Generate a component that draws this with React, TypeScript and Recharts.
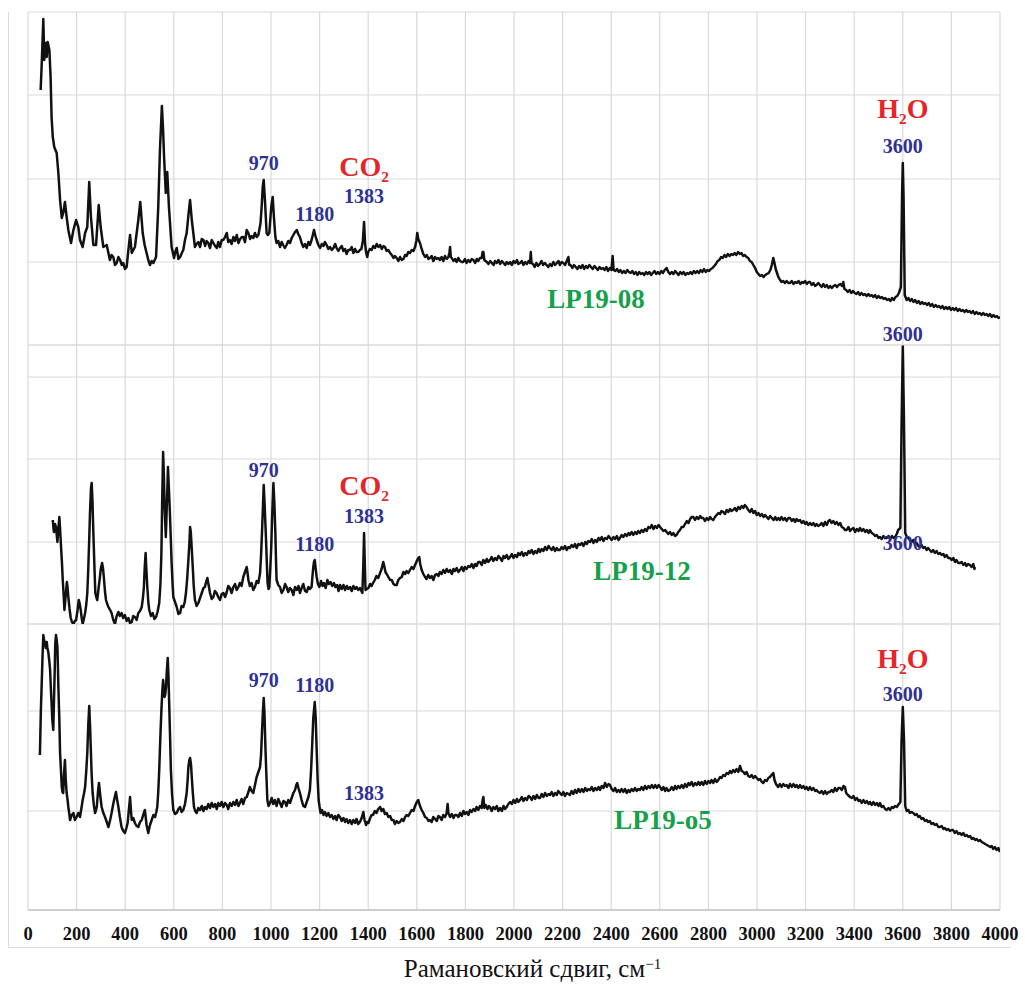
import React from "react";
import { LineChart, Line, XAxis, YAxis, CartesianGrid, ReferenceDot } from "recharts";

// Raman shift axis, cm^-1
const WAVENUMBER_TICKS = [
  0, 200, 400, 600, 800, 1000, 1200, 1400, 1600, 1800, 2000, 2200, 2400, 2600, 2800, 3000, 3200, 3400, 3600, 3800, 4000,
];

// intensity grids of the three stacked spectra (arbitrary units)
const LP19_08_TICKS = [0, 83, 166, 250, 333];
const LP19_12_TICKS = [0, 82, 165, 247];
const LP19_O5_TICKS = [0, 99, 199];

// [raman shift, intensity]
const LP19_08: [number, number][] = [
  [52, 255], [56, 278], [63, 326], [67, 285], [73, 302], [77, 288], [81, 303], [88, 295], [93, 268], [97, 228],
  [102, 208], [108, 198], [118, 192], [125, 172], [132, 145], [139, 127], [145, 132], [152, 143], [159, 128], [166, 115],
  [177, 102], [187, 115], [198, 125], [207, 118], [214, 105], [225, 98], [235, 112], [244, 118], [252, 163], [259, 128],
  [269, 100], [280, 100], [291, 140], [299, 118], [310, 98], [324, 100], [337, 85], [344, 90], [351, 88], [358, 80],
  [365, 82], [372, 88], [379, 85], [386, 80], [392, 82], [399, 76], [406, 78], [413, 95], [420, 110], [427, 92],
  [440, 98], [454, 125], [462, 143], [472, 112], [480, 100], [488, 92], [495, 85], [502, 80], [509, 84], [516, 82],
  [527, 88], [536, 138], [543, 195], [551, 239], [556, 215], [560, 188], [567, 152], [573, 173], [580, 138], [591, 98],
  [601, 87], [606, 93], [612, 97], [619, 86], [626, 88], [633, 92], [639, 95], [646, 105], [653, 112], [661, 132],
  [667, 145], [674, 125], [687, 98], [694, 101], [701, 103], [708, 98], [715, 106], [722, 105], [729, 99], [735, 104],
  [742, 102], [749, 97], [756, 105], [763, 102], [770, 99], [777, 97], [783, 103], [790, 98], [797, 105], [804, 105],
  [811, 108], [818, 112], [824, 103], [831, 105], [838, 101], [845, 108], [852, 104], [859, 110], [866, 102], [873, 106],
  [880, 108], [886, 108], [893, 103], [900, 115], [907, 112], [914, 106], [920, 109], [927, 107], [934, 112], [941, 108],
  [948, 110], [957, 122], [962, 140], [966, 158], [970, 165], [975, 145], [982, 112], [987, 110], [993, 112], [1001, 138],
  [1007, 148], [1012, 128], [1018, 108], [1023, 102], [1030, 104], [1037, 98], [1044, 103], [1050, 100], [1057, 97], [1064, 100],
  [1071, 104], [1078, 102], [1085, 107], [1092, 110], [1099, 113], [1106, 115], [1112, 111], [1119, 108], [1126, 102], [1133, 98],
  [1140, 101], [1147, 97], [1154, 103], [1160, 100], [1167, 105], [1172, 110], [1177, 115], [1183, 109], [1188, 105], [1195, 100],
  [1202, 97], [1209, 101], [1216, 99], [1222, 103], [1229, 100], [1236, 96], [1243, 98], [1250, 95], [1257, 97], [1264, 101],
  [1270, 97], [1277, 94], [1284, 97], [1291, 99], [1298, 94], [1305, 96], [1311, 91], [1318, 95], [1325, 95], [1332, 98],
  [1339, 92], [1346, 96], [1352, 93], [1359, 93], [1366, 95], [1372, 96], [1378, 104], [1383, 123], [1387, 102], [1391, 93],
  [1396, 88], [1400, 93], [1407, 96], [1414, 95], [1421, 99], [1428, 97], [1435, 101], [1442, 98], [1449, 100], [1456, 96],
  [1463, 99], [1469, 98], [1476, 94], [1483, 95], [1490, 92], [1497, 90], [1504, 87], [1510, 89], [1517, 87], [1524, 84],
  [1531, 88], [1538, 85], [1545, 86], [1552, 90], [1558, 89], [1565, 93], [1572, 92], [1579, 95], [1586, 94], [1593, 98],
  [1598, 104], [1602, 112], [1606, 106], [1613, 102], [1620, 96], [1627, 91], [1634, 88], [1641, 90], [1648, 86], [1654, 87],
  [1661, 89], [1668, 84], [1675, 88], [1682, 86], [1689, 87], [1695, 85], [1702, 88], [1709, 84], [1716, 89], [1723, 86],
  [1730, 88], [1734, 92], [1737, 98], [1740, 88], [1744, 87], [1751, 84], [1758, 86], [1764, 83], [1771, 87], [1778, 84],
  [1785, 83], [1791, 83], [1798, 86], [1805, 82], [1812, 85], [1819, 83], [1826, 86], [1833, 85], [1840, 82], [1847, 86],
  [1853, 84], [1860, 87], [1867, 87], [1871, 93], [1874, 93], [1878, 85], [1888, 83], [1895, 81], [1902, 84], [1909, 82],
  [1916, 80], [1922, 84], [1929, 82], [1936, 85], [1943, 81], [1950, 84], [1957, 82], [1964, 80], [1970, 83], [1977, 81],
  [1984, 83], [1991, 80], [1998, 84], [2005, 82], [2012, 85], [2018, 81], [2025, 82], [2032, 84], [2039, 80], [2046, 83],
  [2053, 81], [2060, 84], [2066, 82], [2069, 93], [2072, 82], [2078, 81], [2085, 78], [2092, 82], [2099, 79], [2106, 81],
  [2113, 84], [2120, 80], [2127, 82], [2134, 80], [2141, 78], [2148, 81], [2155, 79], [2162, 83], [2169, 80], [2176, 82],
  [2183, 84], [2189, 80], [2196, 83], [2203, 82], [2210, 80], [2217, 84], [2224, 88], [2227, 80], [2233, 80], [2240, 77],
  [2247, 80], [2254, 78], [2261, 76], [2268, 79], [2275, 77], [2282, 80], [2289, 76], [2296, 79], [2303, 77], [2310, 80],
  [2317, 78], [2324, 76], [2331, 79], [2338, 77], [2345, 75], [2352, 78], [2359, 76], [2366, 77], [2373, 75], [2380, 78],
  [2387, 74], [2394, 77], [2401, 75], [2406, 89], [2410, 75], [2417, 74], [2424, 76], [2431, 73], [2438, 75], [2445, 72],
  [2452, 74], [2459, 72], [2466, 75], [2473, 73], [2480, 72], [2487, 74], [2494, 71], [2501, 73], [2508, 70], [2515, 73],
  [2522, 71], [2529, 72], [2536, 70], [2543, 73], [2550, 71], [2557, 73], [2564, 70], [2571, 72], [2578, 74], [2585, 71],
  [2592, 73], [2599, 71], [2606, 74], [2613, 72], [2620, 75], [2628, 77], [2635, 73], [2642, 71], [2649, 73], [2656, 71],
  [2663, 74], [2670, 72], [2677, 70], [2684, 73], [2691, 71], [2698, 73], [2705, 70], [2712, 72], [2719, 71], [2726, 73],
  [2733, 71], [2740, 74], [2747, 72], [2754, 74], [2761, 72], [2768, 75], [2775, 73], [2782, 76], [2789, 73], [2796, 75],
  [2803, 74], [2810, 76], [2817, 77], [2824, 79], [2831, 81], [2838, 84], [2845, 85], [2852, 88], [2859, 87], [2866, 90],
  [2873, 88], [2880, 91], [2887, 89], [2894, 91], [2901, 90], [2908, 92], [2915, 90], [2922, 93], [2929, 91], [2936, 92],
  [2943, 89], [2950, 90], [2957, 88], [2964, 87], [2971, 84], [2978, 83], [2985, 80], [2992, 77], [2999, 73], [3006, 71],
  [3013, 69], [3020, 70], [3027, 68], [3034, 70], [3041, 71], [3048, 72], [3055, 75], [3061, 80], [3067, 87], [3072, 82],
  [3077, 76], [3081, 73], [3088, 68], [3095, 65], [3101, 63], [3108, 64], [3115, 62], [3122, 64], [3129, 62], [3136, 62],
  [3143, 64], [3150, 61], [3157, 63], [3164, 62], [3171, 64], [3178, 61], [3185, 63], [3191, 62], [3198, 64], [3205, 61],
  [3212, 63], [3218, 63], [3225, 60], [3232, 62], [3239, 59], [3245, 60], [3252, 62], [3259, 60], [3266, 58], [3273, 61],
  [3280, 58], [3287, 60], [3294, 57], [3301, 59], [3308, 57], [3315, 59], [3322, 60], [3329, 58], [3336, 60], [3343, 61],
  [3350, 59], [3355, 63], [3360, 56], [3367, 55], [3374, 53], [3381, 55], [3388, 52], [3395, 54], [3402, 52], [3409, 51],
  [3416, 53], [3423, 50], [3430, 52], [3437, 50], [3444, 51], [3451, 49], [3458, 51], [3465, 49], [3472, 50], [3479, 48],
  [3486, 50], [3493, 47], [3500, 49], [3507, 47], [3514, 48], [3521, 46], [3528, 47], [3535, 45], [3542, 46], [3549, 44],
  [3556, 47], [3563, 45], [3570, 48], [3577, 49], [3584, 52], [3592, 58], [3597, 150], [3600, 182], [3603, 150], [3608, 50],
  [3616, 45], [3623, 47], [3630, 44], [3637, 46], [3644, 43], [3651, 45], [3658, 42], [3665, 44], [3672, 41], [3679, 43],
  [3686, 41], [3693, 42], [3700, 40], [3707, 42], [3714, 39], [3721, 41], [3728, 38], [3735, 40], [3742, 38], [3749, 39],
  [3756, 37], [3763, 39], [3770, 36], [3777, 38], [3784, 36], [3791, 38], [3798, 35], [3805, 37], [3812, 35], [3819, 37],
  [3826, 34], [3833, 36], [3840, 34], [3847, 35], [3854, 33], [3861, 35], [3868, 33], [3875, 34], [3882, 32], [3889, 34],
  [3896, 31], [3903, 33], [3910, 31], [3917, 32], [3924, 30], [3931, 32], [3938, 30], [3945, 31], [3952, 29], [3959, 31],
  [3966, 28], [3973, 30], [3980, 28], [3987, 29], [3994, 27], [4000, 28],
];

const LP19_12: [number, number][] = [
  [102, 104], [105, 95], [107, 92], [111, 100], [115, 97], [118, 90], [121, 82], [125, 95], [129, 107], [132, 95],
  [136, 77], [140, 60], [143, 44], [147, 28], [150, 14], [153, 22], [156, 31], [160, 42], [163, 36], [166, 27],
  [171, 15], [176, 6], [181, 2], [187, 0], [193, 3], [198, 4], [204, 14], [209, 24], [213, 20], [217, 14],
  [221, 6], [225, 0], [230, 5], [235, 11], [240, 20], [244, 31], [248, 55], [252, 85], [255, 110], [259, 135],
  [262, 141], [265, 125], [269, 91], [273, 60], [277, 31], [281, 27], [285, 24], [290, 35], [296, 47], [300, 56],
  [305, 61], [309, 55], [313, 44], [317, 32], [321, 24], [326, 20], [331, 17], [338, 14], [344, 11], [351, 4],
  [358, 0], [365, 8], [372, 12], [378, 8], [385, 11], [392, 6], [399, 9], [406, 3], [413, 6], [420, 1],
  [427, 2], [433, 8], [440, 7], [447, 4], [454, 11], [461, 13], [468, 17], [473, 26], [477, 37], [480, 55],
  [484, 71], [487, 55], [491, 37], [495, 22], [499, 14], [506, 8], [513, 11], [520, 5], [527, 7], [533, 12],
  [540, 21], [545, 40], [549, 71], [552, 120], [556, 172], [559, 150], [562, 117], [565, 100], [567, 87], [569, 100],
  [571, 117], [574, 140], [576, 157], [579, 140], [583, 117], [587, 90], [591, 61], [595, 40], [598, 27], [605, 22],
  [612, 17], [619, 10], [626, 11], [632, 18], [639, 17], [645, 22], [650, 31], [655, 45], [660, 64], [664, 80],
  [667, 97], [670, 92], [674, 75], [678, 57], [682, 38], [687, 24], [694, 18], [701, 21], [708, 26], [715, 31],
  [722, 36], [728, 37], [733, 42], [738, 46], [744, 38], [749, 31], [756, 25], [763, 27], [769, 33], [776, 31],
  [783, 27], [790, 24], [797, 30], [804, 31], [811, 27], [818, 32], [824, 38], [831, 36], [838, 31], [845, 37],
  [852, 40], [859, 34], [866, 37], [872, 41], [879, 38], [886, 47], [893, 52], [900, 57], [904, 50], [907, 44],
  [913, 38], [920, 41], [927, 34], [934, 37], [941, 43], [948, 41], [955, 51], [959, 68], [963, 92], [967, 118],
  [970, 139], [974, 118], [979, 88], [983, 60], [986, 41], [990, 35], [993, 37], [997, 55], [1001, 77], [1005, 110],
  [1010, 141], [1014, 120], [1018, 91], [1021, 60], [1023, 44], [1030, 39], [1037, 37], [1044, 31], [1051, 34], [1058, 40],
  [1064, 37], [1071, 32], [1078, 36], [1085, 34], [1092, 29], [1099, 37], [1106, 34], [1113, 38], [1119, 31], [1126, 36],
  [1133, 40], [1140, 33], [1147, 32], [1154, 37], [1160, 35], [1167, 37], [1170, 46], [1174, 57], [1177, 62], [1180, 64],
  [1184, 55], [1188, 47], [1193, 40], [1199, 37], [1206, 43], [1212, 38], [1218, 41], [1225, 36], [1232, 44], [1238, 40],
  [1245, 42], [1252, 38], [1259, 41], [1265, 37], [1272, 39], [1278, 33], [1284, 39], [1291, 35], [1298, 39], [1305, 34],
  [1312, 38], [1318, 35], [1325, 37], [1332, 33], [1339, 38], [1346, 35], [1352, 37], [1359, 34], [1366, 36], [1372, 33],
  [1376, 31], [1380, 60], [1383, 91], [1386, 60], [1389, 34], [1394, 35], [1401, 36], [1408, 40], [1414, 38], [1420, 41],
  [1427, 44], [1434, 48], [1441, 46], [1449, 51], [1455, 55], [1462, 62], [1466, 58], [1471, 52], [1476, 50], [1483, 47],
  [1490, 44], [1497, 44], [1504, 40], [1510, 39], [1517, 39], [1524, 44], [1531, 46], [1538, 47], [1545, 52], [1552, 50],
  [1558, 53], [1565, 51], [1572, 54], [1579, 57], [1586, 55], [1593, 59], [1600, 63], [1606, 66], [1610, 67], [1614, 60],
  [1620, 54], [1627, 50], [1634, 47], [1640, 45], [1647, 49], [1654, 46], [1661, 48], [1668, 44], [1675, 49], [1682, 50],
  [1689, 48], [1695, 52], [1702, 50], [1709, 54], [1716, 51], [1723, 55], [1730, 52], [1737, 54], [1744, 50], [1751, 55],
  [1757, 53], [1764, 56], [1771, 52], [1778, 54], [1785, 57], [1792, 53], [1798, 57], [1805, 55], [1812, 58], [1819, 57],
  [1826, 60], [1833, 56], [1840, 60], [1846, 58], [1853, 62], [1860, 62], [1867, 59], [1874, 64], [1881, 61], [1888, 65],
  [1894, 62], [1901, 64], [1908, 67], [1915, 63], [1922, 66], [1929, 64], [1936, 68], [1943, 66], [1950, 63], [1957, 68],
  [1963, 66], [1970, 69], [1977, 65], [1984, 67], [1991, 70], [1998, 66], [2005, 69], [2012, 67], [2018, 71], [2025, 69],
  [2032, 72], [2039, 68], [2046, 71], [2053, 69], [2060, 73], [2066, 71], [2073, 74], [2080, 70], [2087, 73], [2094, 71],
  [2101, 75], [2107, 72], [2114, 75], [2121, 73], [2128, 77], [2135, 74], [2142, 78], [2148, 76], [2155, 74], [2162, 77],
  [2169, 73], [2176, 76], [2182, 74], [2189, 74], [2196, 77], [2203, 75], [2210, 78], [2217, 74], [2224, 77], [2230, 76],
  [2237, 79], [2244, 77], [2251, 80], [2258, 76], [2265, 80], [2272, 79], [2279, 81], [2286, 78], [2293, 82], [2300, 80],
  [2306, 83], [2313, 82], [2320, 85], [2327, 81], [2334, 84], [2341, 82], [2348, 86], [2354, 84], [2361, 87], [2368, 83],
  [2375, 86], [2382, 85], [2389, 88], [2395, 86], [2402, 84], [2409, 87], [2416, 85], [2423, 88], [2430, 84], [2436, 86],
  [2443, 89], [2450, 87], [2457, 90], [2464, 88], [2471, 91], [2477, 89], [2484, 92], [2491, 89], [2498, 92], [2505, 90],
  [2511, 93], [2518, 91], [2525, 94], [2532, 92], [2539, 95], [2546, 93], [2553, 97], [2560, 96], [2567, 99], [2574, 95],
  [2581, 98], [2588, 96], [2595, 99], [2601, 97], [2608, 95], [2615, 93], [2622, 94], [2628, 92], [2635, 90], [2642, 92],
  [2649, 89], [2656, 91], [2663, 88], [2669, 89], [2676, 92], [2683, 94], [2690, 97], [2697, 97], [2704, 100], [2711, 103],
  [2718, 101], [2725, 105], [2731, 107], [2738, 107], [2745, 104], [2752, 107], [2759, 105], [2766, 108], [2772, 106], [2779, 106],
  [2786, 103], [2793, 106], [2800, 104], [2807, 107], [2813, 105], [2820, 104], [2827, 107], [2834, 109], [2841, 111], [2848, 110],
  [2854, 113], [2861, 112], [2868, 110], [2875, 114], [2882, 112], [2889, 115], [2895, 113], [2902, 114], [2909, 116], [2916, 113],
  [2923, 117], [2930, 115], [2937, 118], [2944, 116], [2950, 119], [2957, 117], [2964, 114], [2971, 112], [2978, 115], [2985, 111],
  [2992, 113], [2999, 109], [3006, 111], [3013, 108], [3020, 110], [3027, 107], [3033, 109], [3040, 107], [3047, 105], [3054, 108],
  [3061, 106], [3068, 104], [3075, 107], [3081, 104], [3088, 106], [3094, 104], [3101, 107], [3108, 104], [3115, 106], [3122, 103],
  [3129, 106], [3136, 106], [3143, 103], [3150, 105], [3157, 102], [3163, 105], [3170, 103], [3177, 104], [3184, 101], [3191, 103],
  [3198, 100], [3204, 102], [3211, 99], [3218, 101], [3225, 99], [3232, 101], [3239, 98], [3245, 100], [3252, 98], [3259, 99],
  [3266, 101], [3273, 98], [3280, 102], [3287, 99], [3294, 103], [3300, 104], [3307, 101], [3314, 103], [3321, 100], [3328, 102],
  [3335, 99], [3342, 101], [3349, 97], [3356, 96], [3362, 94], [3369, 94], [3376, 97], [3383, 93], [3390, 95], [3397, 96],
  [3404, 92], [3411, 95], [3418, 93], [3424, 96], [3431, 93], [3438, 95], [3445, 92], [3452, 94], [3459, 91], [3465, 94],
  [3472, 91], [3479, 90], [3486, 88], [3493, 89], [3500, 86], [3506, 87], [3513, 85], [3520, 88], [3527, 86], [3534, 86],
  [3541, 88], [3548, 85], [3555, 88], [3562, 86], [3568, 87], [3575, 90], [3581, 94], [3590, 96], [3595, 200], [3600, 279],
  [3605, 200], [3610, 91], [3615, 88], [3622, 86], [3629, 84], [3636, 82], [3643, 84], [3650, 80], [3657, 81], [3664, 78],
  [3670, 77], [3677, 79], [3684, 76], [3691, 77], [3698, 74], [3704, 76], [3711, 74], [3718, 72], [3725, 74], [3732, 71],
  [3739, 73], [3746, 70], [3753, 71], [3760, 69], [3767, 70], [3773, 67], [3780, 69], [3787, 66], [3794, 66], [3801, 64],
  [3808, 66], [3815, 62], [3821, 64], [3828, 61], [3835, 61], [3842, 62], [3849, 59], [3856, 61], [3862, 58], [3869, 60],
  [3876, 59], [3883, 57], [3890, 60], [3895, 55], [3897, 57],
];

const LP19_O5: [number, number][] = [
  [49, 155], [53, 200], [56, 223], [60, 255], [63, 275], [66, 270], [70, 267], [73, 262], [77, 268], [80, 262],
  [84, 257], [88, 248], [91, 240], [94, 222], [97, 207], [100, 190], [104, 180], [107, 210], [110, 240], [112, 265],
  [115, 275], [118, 270], [121, 263], [123, 245], [125, 223], [129, 190], [132, 157], [136, 138], [139, 123], [142, 118],
  [145, 117], [148, 135], [152, 150], [155, 132], [159, 117], [163, 110], [166, 103], [170, 96], [173, 90], [180, 95],
  [187, 97], [193, 90], [200, 93], [207, 97], [214, 93], [220, 102], [225, 110], [230, 116], [235, 123], [240, 140],
  [244, 157], [248, 185], [252, 204], [256, 180], [259, 157], [262, 135], [266, 117], [271, 105], [276, 97], [280, 100],
  [283, 103], [288, 118], [292, 127], [297, 115], [303, 103], [310, 97], [317, 93], [324, 88], [331, 83], [338, 90],
  [344, 97], [350, 105], [356, 112], [362, 118], [367, 110], [372, 103], [378, 93], [385, 83], [392, 79], [399, 77],
  [405, 82], [410, 87], [415, 100], [420, 113], [424, 98], [427, 90], [433, 92], [440, 87], [447, 84], [454, 83],
  [461, 88], [468, 90], [474, 95], [481, 100], [488, 85], [495, 77], [502, 85], [509, 90], [516, 95], [523, 93],
  [528, 98], [532, 103], [536, 118], [540, 140], [545, 175], [549, 200], [553, 220], [556, 230], [559, 222], [562, 213],
  [565, 216], [568, 223], [571, 238], [575, 252], [578, 235], [581, 207], [585, 170], [588, 140], [593, 115], [598, 100],
  [605, 96], [612, 97], [619, 101], [626, 103], [632, 98], [639, 100], [646, 106], [653, 117], [657, 130], [660, 143],
  [664, 150], [667, 152], [671, 145], [674, 133], [678, 118], [683, 103], [688, 99], [694, 97], [701, 102], [708, 100],
  [715, 104], [722, 99], [728, 103], [735, 101], [742, 106], [749, 102], [756, 107], [763, 103], [770, 106], [777, 101],
  [783, 107], [790, 104], [797, 108], [804, 103], [811, 107], [818, 105], [824, 101], [831, 107], [838, 104], [845, 108],
  [852, 105], [859, 110], [866, 104], [872, 107], [879, 111], [886, 106], [893, 112], [900, 113], [907, 118], [913, 123],
  [920, 119], [927, 117], [934, 125], [941, 133], [948, 138], [955, 143], [959, 155], [963, 178], [967, 200], [970, 212],
  [973, 198], [977, 163], [981, 135], [985, 110], [990, 104], [996, 107], [1003, 112], [1009, 106], [1016, 110], [1023, 104],
  [1030, 111], [1037, 107], [1044, 103], [1051, 109], [1058, 108], [1064, 104], [1071, 110], [1078, 107], [1085, 112], [1092, 117],
  [1099, 120], [1104, 125], [1108, 127], [1113, 122], [1119, 117], [1126, 110], [1133, 104], [1140, 103], [1147, 108], [1154, 113],
  [1160, 120], [1165, 140], [1170, 168], [1174, 192], [1180, 208], [1184, 192], [1188, 160], [1192, 130], [1196, 110], [1200, 103],
  [1204, 97], [1210, 100], [1216, 95], [1222, 98], [1229, 94], [1236, 97], [1243, 93], [1250, 95], [1257, 91], [1264, 94],
  [1270, 90], [1277, 95], [1284, 93], [1291, 89], [1298, 92], [1305, 88], [1311, 91], [1318, 87], [1325, 90], [1332, 86],
  [1339, 90], [1346, 87], [1352, 91], [1359, 86], [1366, 88], [1373, 92], [1380, 98], [1385, 90], [1391, 85], [1396, 88],
  [1401, 87], [1408, 92], [1414, 95], [1420, 95], [1427, 99], [1434, 97], [1441, 101], [1449, 103], [1455, 99], [1462, 101],
  [1469, 96], [1476, 97], [1483, 93], [1490, 94], [1497, 90], [1504, 90], [1510, 86], [1517, 89], [1524, 87], [1531, 88],
  [1538, 91], [1545, 89], [1552, 93], [1558, 95], [1565, 94], [1572, 97], [1579, 100], [1586, 99], [1593, 104], [1600, 108],
  [1606, 110], [1613, 104], [1620, 100], [1627, 97], [1634, 93], [1641, 92], [1648, 89], [1654, 90], [1661, 88], [1668, 93],
  [1675, 91], [1682, 89], [1689, 94], [1695, 93], [1702, 90], [1709, 95], [1716, 93], [1723, 97], [1727, 106], [1730, 97],
  [1737, 93], [1744, 96], [1751, 92], [1757, 95], [1764, 95], [1771, 93], [1778, 97], [1785, 94], [1792, 99], [1798, 96],
  [1805, 98], [1812, 95], [1819, 100], [1826, 98], [1833, 101], [1840, 99], [1846, 103], [1853, 100], [1860, 104], [1867, 102],
  [1871, 110], [1874, 113], [1878, 102], [1884, 105], [1891, 101], [1897, 104], [1901, 103], [1908, 99], [1915, 103], [1922, 101],
  [1929, 104], [1936, 99], [1943, 102], [1950, 99], [1957, 104], [1963, 101], [1970, 103], [1977, 106], [1984, 108], [1991, 106],
  [1998, 110], [2005, 107], [2012, 111], [2018, 108], [2025, 110], [2032, 113], [2039, 109], [2046, 112], [2053, 110], [2060, 114],
  [2066, 113], [2073, 110], [2080, 114], [2087, 111], [2094, 115], [2101, 112], [2107, 112], [2114, 116], [2121, 113], [2128, 117],
  [2135, 114], [2142, 116], [2148, 115], [2155, 118], [2162, 114], [2169, 117], [2176, 115], [2182, 119], [2189, 117], [2196, 115],
  [2203, 118], [2210, 114], [2217, 117], [2224, 116], [2230, 115], [2237, 119], [2244, 116], [2251, 120], [2258, 117], [2265, 121],
  [2272, 118], [2279, 121], [2286, 118], [2293, 122], [2300, 119], [2306, 121], [2313, 120], [2320, 123], [2327, 119], [2334, 122],
  [2341, 120], [2348, 123], [2354, 120], [2361, 124], [2368, 122], [2375, 127], [2382, 123], [2389, 126], [2395, 125], [2402, 121],
  [2409, 119], [2416, 122], [2423, 118], [2430, 120], [2436, 118], [2443, 121], [2450, 118], [2457, 121], [2464, 117], [2471, 120],
  [2477, 118], [2484, 121], [2491, 119], [2498, 122], [2505, 119], [2511, 121], [2518, 120], [2525, 123], [2532, 120], [2539, 124],
  [2546, 121], [2553, 124], [2560, 122], [2567, 125], [2574, 122], [2581, 125], [2588, 122], [2595, 125], [2601, 123], [2608, 120],
  [2615, 123], [2622, 119], [2628, 122], [2635, 119], [2642, 120], [2649, 123], [2656, 120], [2663, 124], [2669, 121], [2676, 124],
  [2683, 122], [2690, 125], [2697, 122], [2704, 126], [2711, 123], [2718, 127], [2724, 125], [2731, 128], [2738, 124], [2745, 127],
  [2752, 125], [2759, 128], [2765, 125], [2772, 128], [2779, 125], [2786, 129], [2793, 126], [2800, 129], [2807, 127], [2813, 130],
  [2820, 127], [2827, 131], [2834, 128], [2841, 130], [2848, 133], [2854, 132], [2861, 135], [2868, 134], [2875, 137], [2882, 136],
  [2889, 139], [2895, 137], [2902, 140], [2909, 138], [2916, 141], [2923, 138], [2930, 144], [2937, 139], [2944, 138], [2950, 136],
  [2957, 138], [2964, 134], [2971, 133], [2978, 135], [2985, 132], [2992, 134], [2999, 132], [3006, 130], [3013, 131], [3020, 128],
  [3026, 127], [3033, 130], [3040, 129], [3047, 132], [3053, 133], [3060, 135], [3067, 137], [3072, 130], [3078, 126], [3087, 123],
  [3094, 126], [3101, 123], [3108, 126], [3115, 124], [3122, 125], [3129, 122], [3136, 126], [3143, 123], [3150, 126], [3157, 123],
  [3163, 125], [3170, 122], [3177, 125], [3184, 122], [3191, 124], [3198, 121], [3204, 123], [3211, 120], [3218, 123], [3225, 120],
  [3232, 122], [3239, 119], [3245, 120], [3252, 118], [3259, 117], [3266, 119], [3273, 116], [3280, 119], [3287, 116], [3294, 118],
  [3300, 118], [3307, 120], [3314, 118], [3321, 122], [3328, 119], [3335, 122], [3342, 122], [3349, 120], [3356, 124], [3362, 123],
  [3367, 117], [3374, 115], [3383, 113], [3390, 112], [3397, 114], [3404, 110], [3411, 112], [3418, 109], [3424, 110], [3431, 107],
  [3438, 110], [3445, 107], [3452, 109], [3459, 106], [3465, 108], [3472, 105], [3479, 108], [3486, 105], [3493, 107], [3500, 104],
  [3506, 107], [3513, 103], [3520, 104], [3527, 101], [3534, 100], [3541, 102], [3548, 100], [3555, 103], [3561, 102], [3568, 104],
  [3575, 103], [3581, 105], [3590, 108], [3595, 170], [3600, 203], [3605, 170], [3610, 104], [3616, 99], [3623, 100], [3629, 97],
  [3636, 98], [3643, 97], [3650, 95], [3657, 96], [3664, 93], [3670, 94], [3677, 91], [3684, 92], [3691, 89], [3698, 90],
  [3704, 88], [3711, 89], [3718, 86], [3725, 87], [3732, 85], [3739, 86], [3746, 83], [3753, 83], [3760, 84], [3767, 81],
  [3773, 82], [3780, 80], [3787, 81], [3794, 79], [3801, 80], [3807, 80], [3814, 77], [3821, 79], [3828, 76], [3835, 77],
  [3842, 75], [3849, 77], [3856, 74], [3863, 75], [3870, 73], [3877, 74], [3884, 71], [3891, 72], [3898, 70], [3904, 71],
  [3911, 69], [3918, 70], [3925, 68], [3932, 67], [3939, 66], [3946, 65], [3953, 64], [3960, 63], [3966, 64], [3972, 61],
  [3979, 63], [3986, 60], [3993, 62], [4000, 58],
];

type Note = { x: number; y: number; text: string; sub?: string; tail?: string; kind: "peak" | "gas" | "name" };

// band positions (blue), gas species (red) and sample names (green)
const LP19_08_NOTES: Note[] = [
  { x: 970, y: 175, text: "970", kind: "peak" },
  { x: 1180, y: 124, text: "1180", kind: "peak" },
  { x: 1383, y: 169, text: "CO", sub: "2", kind: "gas" },
  { x: 1383, y: 142, text: "1383", kind: "peak" },
  { x: 3600, y: 227, text: "H", sub: "2", tail: "O", kind: "gas" },
  { x: 3600, y: 192, text: "3600", kind: "peak" },
  { x: 2337, y: 37, text: "LP19-08", kind: "name" },
];

const LP19_12_NOTES: Note[] = [
  { x: 3600, y: 283, text: "3600", kind: "peak" },
  { x: 970, y: 147, text: "970", kind: "peak" },
  { x: 1180, y: 73, text: "1180", kind: "peak" },
  { x: 1383, y: 129, text: "CO", sub: "2", kind: "gas" },
  { x: 1383, y: 101, text: "1383", kind: "peak" },
  { x: 2527, y: 44, text: "LP19-12", kind: "name" },
  { x: 3600, y: 74, text: "3600", kind: "peak" },
];

const LP19_O5_NOTES: Note[] = [
  { x: 3600, y: 242, text: "H", sub: "2", tail: "O", kind: "gas" },
  { x: 3600, y: 209, text: "3600", kind: "peak" },
  { x: 970, y: 223, text: "970", kind: "peak" },
  { x: 1180, y: 218, text: "1180", kind: "peak" },
  { x: 1383, y: 110, text: "1383", kind: "peak" },
  { x: 2613, y: 81, text: "LP19-o5", kind: "name" },
];

const SERIF = "'Liberation Serif', 'DejaVu Serif', 'Times New Roman', serif";
const NOTE_STYLE = {
  peak: { color: "#2f3192", size: 20 },
  gas: { color: "#e3262a", size: 28 },
  name: { color: "#17a04a", size: 27 },
};

function NoteText(props: any) {
  const { note } = props;
  const vb = props.viewBox ?? props;
  const { color, size } = NOTE_STYLE[note.kind as Note["kind"]];
  return (
    <text
      x={vb.x + (vb.width ?? 0) / 2}
      y={vb.y + (vb.height ?? 0) / 2}
      textAnchor="middle"
      fill={color}
      fontSize={size}
      fontWeight="bold"
      fontFamily={SERIF}
    >
      {note.text}
      {note.sub && (
        <tspan fontSize={size * 0.55} dy={size * 0.2}>
          {note.sub}
        </tspan>
      )}
      {note.tail && <tspan dy={-size * 0.2}>{note.tail}</tspan>}
    </text>
  );
}

type PanelProps = {
  spectrum: [number, number][];
  domain: [number, number];
  ticks: number[];
  notes: Note[];
  top: number;
  bottom: number;
  showAxis?: boolean;
};

function SpectrumPanel({ spectrum, domain, ticks, notes, top, bottom, showAxis }: PanelProps) {
  const rows = spectrum.map(([w, v]) => ({ w, v }));
  return (
    <div style={{ position: "absolute", left: 0, top: 0 }}>
      <LineChart width={1025} height={990} data={rows} margin={{ top, right: 25, bottom, left: 28 }}>
        <CartesianGrid stroke="#d9d9d9" strokeWidth={1.2} />
        <XAxis
          type="number"
          dataKey="w"
          domain={[0, 4000]}
          ticks={WAVENUMBER_TICKS}
          interval={0}
          hide={!showAxis}
          height={30}
          tickLine={false}
          tickMargin={11}
          axisLine={{ stroke: "#c4c4c4", strokeWidth: 1.3 }}
          tick={{ fontSize: 18.5, fontWeight: 700, fontFamily: SERIF, fill: "#111" }}
          allowDataOverflow
        />
        <YAxis hide type="number" domain={domain} ticks={ticks} allowDataOverflow />
        <Line
          type="linear"
          dataKey="v"
          stroke="#111"
          strokeWidth={2.5}
          strokeLinejoin="round"
          dot={false}
          isAnimationActive={false}
        />
        {notes.map((n, i) => (
          <ReferenceDot
            key={i}
            x={n.x}
            y={n.y}
            r={0}
            fill="none"
            stroke="none"
            ifOverflow="visible"
            label={<NoteText note={n} />}
          />
        ))}
      </LineChart>
    </div>
  );
}

export default function App() {
  return (
    <div style={{ position: "absolute", left: 0, top: 0, width: 1025, height: 990, background: "#fff", overflow: "hidden" }}>
      <div style={{ position: "absolute", left: 8, top: 12, width: 1002, height: 935, borderLeft: "1.5px solid #dcdcdc", borderBottom: "1.5px solid #dcdcdc" }} />
      <SpectrumPanel spectrum={LP19_O5} domain={[0, 286]} ticks={LP19_O5_TICKS} notes={LP19_O5_NOTES} top={624} bottom={50} showAxis />
      <SpectrumPanel spectrum={LP19_12} domain={[0, 279]} ticks={LP19_12_TICKS} notes={LP19_12_NOTES} top={345} bottom={366} />
      <SpectrumPanel spectrum={LP19_08} domain={[0, 333]} ticks={LP19_08_TICKS} notes={LP19_08_NOTES} top={12} bottom={645} />
      <div
        style={{
          position: "absolute",
          left: 20,
          top: 956,
          width: 1025,
          textAlign: "center",
          fontFamily: SERIF,
          fontSize: 25,
          lineHeight: "26px",
          color: "#111",
        }}
      >
        Рамановский сдвиг, см
        <sup style={{ fontSize: 15, lineHeight: 0, verticalAlign: "0.55em" }}>−1</sup>
      </div>
    </div>
  );
}
